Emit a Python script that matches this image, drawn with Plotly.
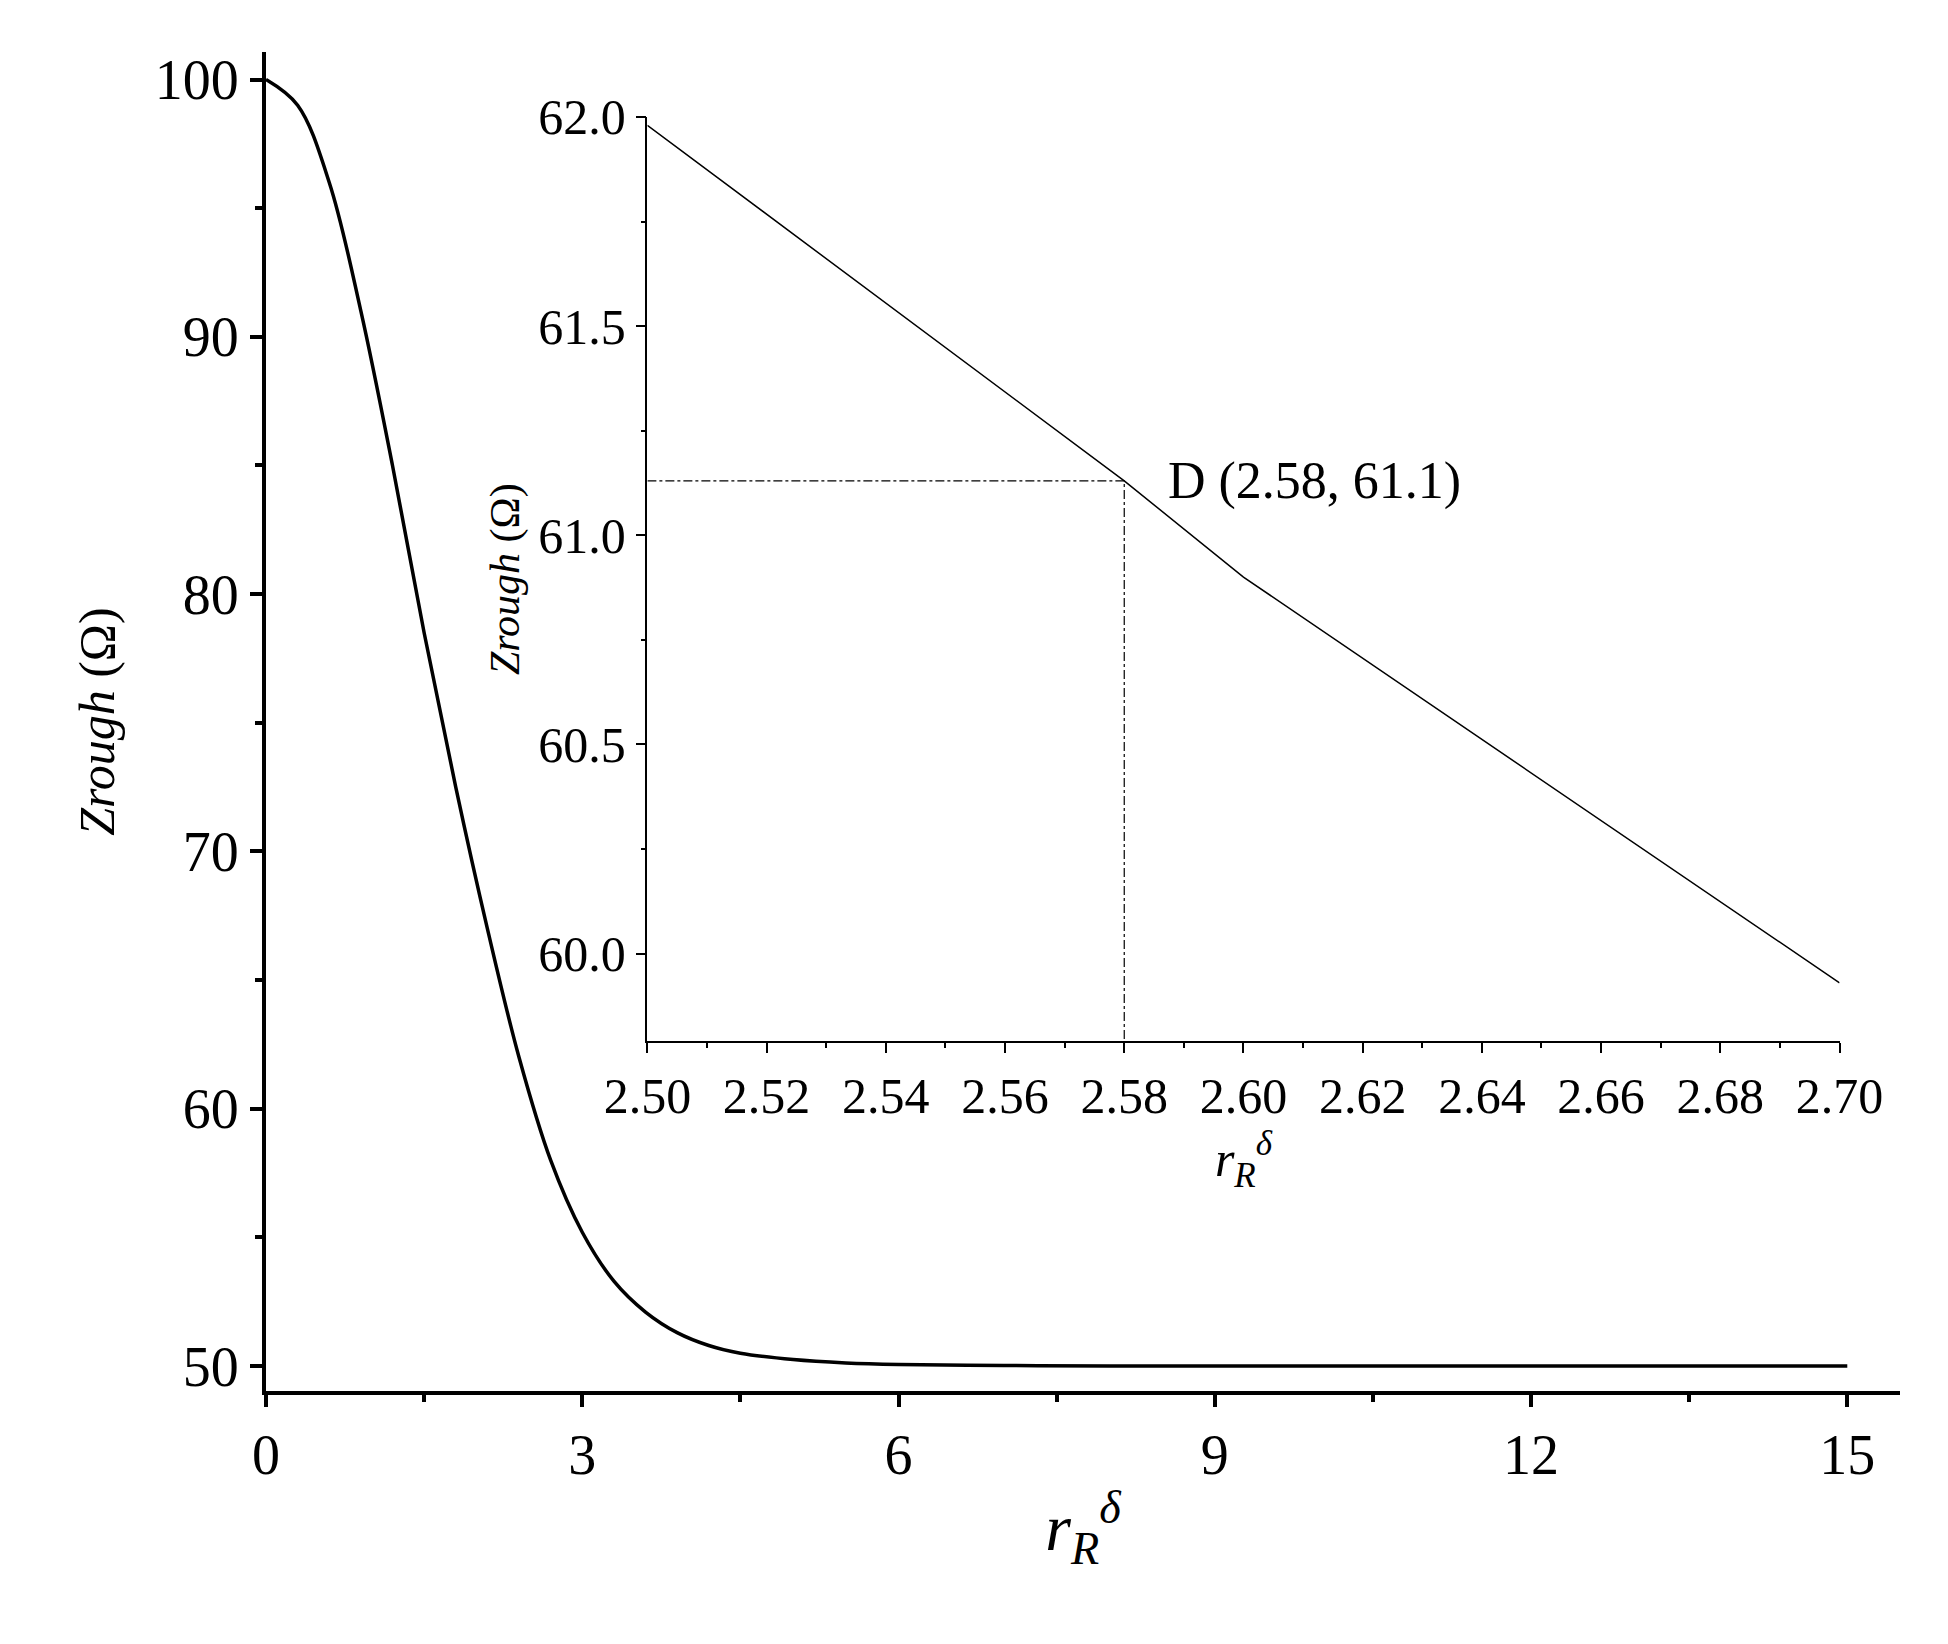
import plotly.graph_objects as go

# main curve
r_main = [0, 0.3, 0.6, 0.9, 1.2, 1.5, 1.8, 2.1, 2.4, 2.7, 3.0, 3.3, 3.6, 3.9, 4.2, 4.5, 5.0, 5.5, 6.0, 7.0, 8.0, 10.0, 15.0]
z_main = [100, 99.0, 96.0, 91.0, 85.0, 78.5, 72.5, 67.0, 62.0, 58.0, 55.2, 53.3, 52.1, 51.3, 50.8, 50.5, 50.25, 50.12, 50.06, 50.02, 50, 50, 50]

# zoomed inset
r_inset = [2.50, 2.58, 2.60, 2.70]
z_inset = [61.98, 61.13, 60.9, 59.93]
point_d = (2.58, 61.13)

FONT = "Liberation Serif"
rtitle = "<i>r</i><sub><i>R</i></sub><sup><i>δ</i></sup>"
ztitle = "<i>Zrough</i> (Ω)"

fig = go.Figure()
fig.add_trace(go.Scatter(x=r_main, y=z_main, mode="lines", line=dict(color="black", width=3.5, shape="spline"),
                         showlegend=False))
fig.add_trace(go.Scatter(x=r_inset, y=z_inset, mode="lines", line=dict(color="black", width=1.5),
                         xaxis="x2", yaxis="y2", showlegend=False))
# guide lines to point D
fig.add_trace(go.Scatter(x=[2.5, point_d[0], point_d[0]], y=[point_d[1], point_d[1], 59.79], mode="lines",
                         line=dict(color="black", width=1.2, dash="dashdot"),
                         xaxis="x2", yaxis="y2", showlegend=False))
fig.add_annotation(x=2.587, y=point_d[1], xref="x2", yref="y2", text="D (2.58, 61.1)", showarrow=False,
                   xanchor="left", yanchor="middle", font=dict(size=52, family=FONT, color="black"))

axis_common = dict(showline=True, linecolor="black", ticks="outside", tickcolor="black", showgrid=False,
                   zeroline=False, mirror=False)

fig.update_layout(
    width=1948, height=1644,
    plot_bgcolor="white", paper_bgcolor="white",
    margin=dict(l=258, r=31, t=44, b=261),
    font=dict(family=FONT, color="black", size=56),
    xaxis=dict(axis_common, range=[0, 15.5], tickvals=[0, 3, 6, 9, 12, 15], linewidth=4, tickwidth=4, ticklen=12,
               minor=dict(tickvals=[1.5, 4.5, 7.5, 10.5, 13.5], ticklen=7, tickwidth=4, ticks="outside", tickcolor="black"),
               title=dict(text=rtitle, font=dict(size=66), standoff=20)),
    yaxis=dict(axis_common, range=[49.03, 101.07], tickvals=[50, 60, 70, 80, 90, 100], linewidth=4, tickwidth=4, ticklen=12,
               minor=dict(tickvals=[55, 65, 75, 85, 95], ticklen=7, tickwidth=4, ticks="outside", tickcolor="black"),
               title=dict(text=ztitle, font=dict(size=50), standoff=25)),
    xaxis2=dict(axis_common, domain=[0.2334, 0.963], anchor="y2", range=[2.5, 2.7], dtick=0.02, tickformat=".2f",
                linewidth=1.5, tickwidth=1.5, ticklen=10,
                minor=dict(dtick=0.01, ticklen=5, ticks="outside", tickcolor="black"),
                title=dict(text=rtitle, font=dict(size=50), standoff=10), tickfont=dict(size=50)),
    yaxis2=dict(axis_common, domain=[0.2611, 0.9515], anchor="x2", range=[59.79, 62.0], dtick=0.5, tickformat=".1f",
                linewidth=1.5, tickwidth=1.5, ticklen=10,
                minor=dict(dtick=0.25, ticklen=5, ticks="outside", tickcolor="black"),
                title=dict(text=ztitle, font=dict(size=42), standoff=5), tickfont=dict(size=50)),
)

fig.write_html("out.html")
